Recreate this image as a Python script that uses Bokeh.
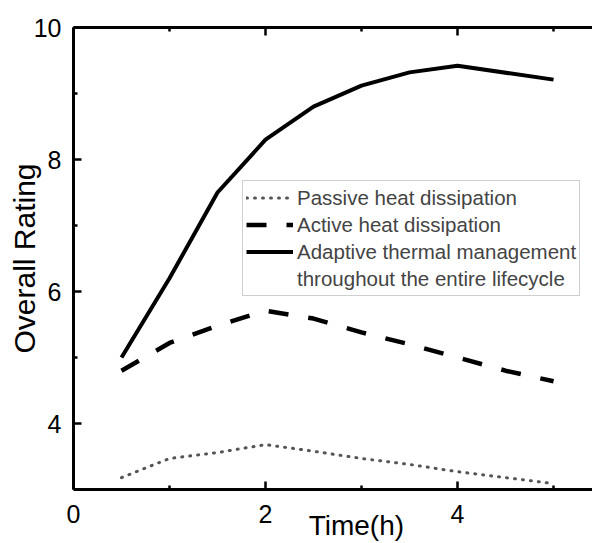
import math
from bokeh.plotting import figure
from bokeh.models import (Range1d, FixedTicker, LinearAxis, Legend, LegendItem)
from bokeh.embed import file_html
from bokeh.resources import INLINE

# ---- data ----
time_adaptive = [0.5, 1.0, 1.5, 2.0, 2.5, 3.0, 3.5, 4.0, 5.0]
adaptive = [5.0, 6.2, 7.5, 8.3, 8.8, 9.12, 9.32, 9.42, 9.21]
time_other = [0.5, 1.0, 1.5, 2.0, 2.5, 3.0, 3.5, 4.0, 4.5, 5.0]
active = [4.8, 5.22, 5.48, 5.71, 5.59, 5.38, 5.2, 5.0, 4.8, 4.64]
passive = [3.18, 3.47, 3.56, 3.68, 3.58, 3.47, 3.38, 3.27, 3.18, 3.09]
x_major = [0, 2, 4]
x_minor = [1, 3, 5]
y_major = [4, 6, 8, 10]
y_minor = [5, 7, 9]
labels = ["Passive heat dissipation", "Active heat dissipation",
          "Adaptive thermal management", "throughout the entire lifecycle"]
x_title = "Time(h)"
y_title = "Overall Rating"

FONT = "Liberation Sans"

p = figure(width=592, height=543, output_backend="svg", toolbar_location=None,
           x_range=Range1d(0, 5.406), y_range=Range1d(3, 10),
           min_border_left=73, min_border_right=0, min_border_top=27, min_border_bottom=54,
           x_axis_location=None, y_axis_location=None)
p.outline_line_color = None
p.xgrid.visible = False
p.ygrid.visible = False
p.background_fill_color = "white"
p.border_fill_color = "white"

def style_axis(ax, ticks, minor, labels_on=True):
    ax.ticker = FixedTicker(ticks=ticks, minor_ticks=minor)
    ax.axis_line_width = 3
    ax.axis_line_color = "black"
    ax.major_tick_in = 8
    ax.major_tick_out = 0
    ax.minor_tick_in = 4
    ax.minor_tick_out = 0
    ax.major_tick_line_width = 2.5
    ax.minor_tick_line_width = 2.5
    ax.major_tick_line_color = "black"
    ax.minor_tick_line_color = "black"
    ax.major_label_text_font = FONT
    ax.major_label_text_font_size = "25px"
    ax.major_label_text_color = "black"
    if not labels_on:
        ax.major_label_text_font_size = "0px"
        ax.major_label_text_alpha = 0

def style_title(ax, size, standoff):
    ax.axis_label_text_font = FONT
    ax.axis_label_text_font_size = size
    ax.axis_label_text_font_style = "normal"
    ax.axis_label_text_color = "black"
    ax.axis_label_standoff = standoff

xb = LinearAxis()
style_axis(xb, x_major, x_minor)
xb.major_label_standoff = 15
# non-breaking spaces shift the centred title right, as in the reference
xb.axis_label = "\u00a0" * 6 + x_title
style_title(xb, "28px", -16)
xb.axis_label_text_line_height = 0.8
p.add_layout(xb, "below")

yl = LinearAxis()
style_axis(yl, y_major, y_minor)
yl.major_label_standoff = 12
yl.axis_label = y_title
style_title(yl, "30px", -10)
p.add_layout(yl, "left")

xt = LinearAxis()
style_axis(xt, x_major, x_minor, labels_on=False)
p.add_layout(xt, "above")

r_pass = p.line(time_other, passive, line_color="#555555", line_width=3,
                line_dash="1 7", line_cap="round")
r_act = p.line(time_other, active, line_color="black", line_width=4.5,
               line_dash="20 20", line_cap="butt")
r_adp = p.line(time_adaptive, adaptive, line_color="black", line_width=4,
               line_join="round")
# empty, invisible renderer carrying the legend's continuation line
r_cont = p.line([], [], line_alpha=0)

legend = Legend(items=[LegendItem(label=labels[0], renderers=[r_pass]),
                       LegendItem(label=labels[1], renderers=[r_act]),
                       LegendItem(label=labels[2], renderers=[r_adp]),
                       LegendItem(label=labels[3], renderers=[r_cont])],
                location=(169, 193), margin=0, padding=3, spacing=0,
                glyph_width=47, glyph_height=27, label_height=27, label_standoff=4,
                label_text_font=FONT, label_text_font_size="20.5px",
                border_line_color="#a0a0a0", border_line_width=1,
                background_fill_color="white", background_fill_alpha=1)
p.add_layout(legend)

open("out.html", "w").write(file_html(p, INLINE))
